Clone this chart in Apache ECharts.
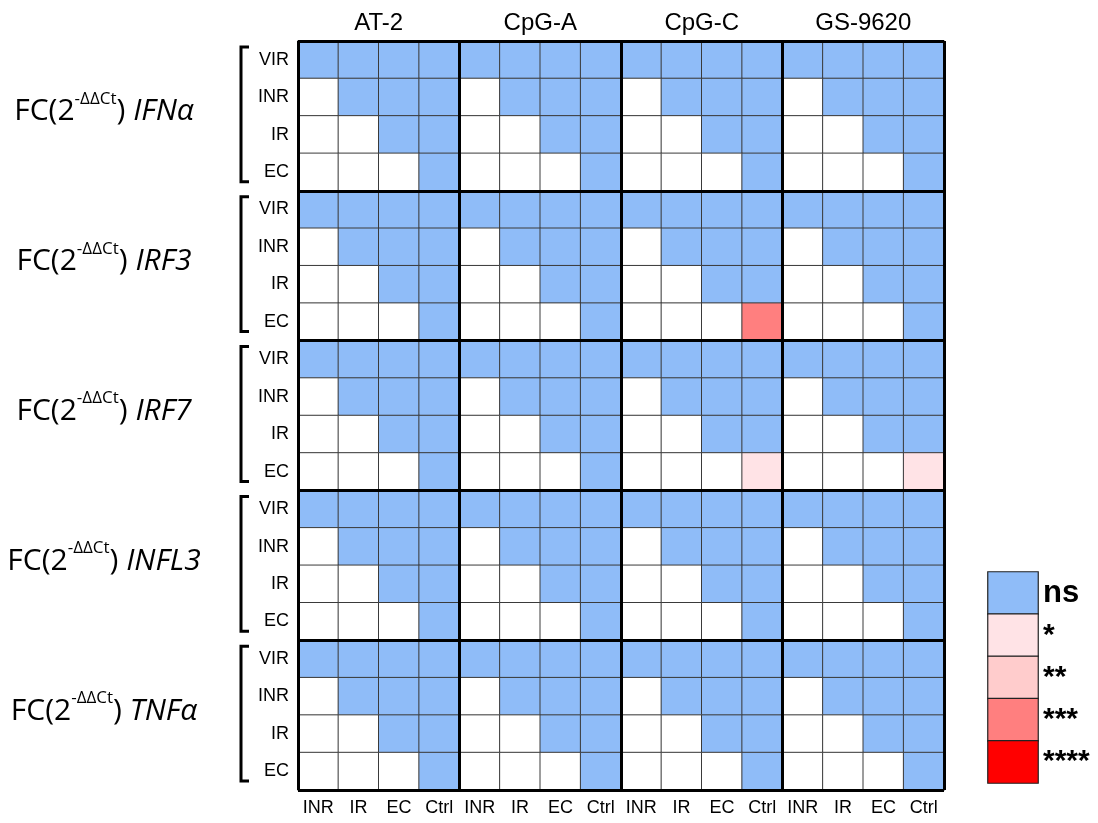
<!DOCTYPE html>
<html><head><meta charset="utf-8">
<script src="https://cdn.jsdelivr.net/npm/echarts@6/dist/echarts.min.js"></script>
<style>html,body{margin:0;padding:0;background:#fff}#c{width:1098px;height:823px}</style>
</head><body><div id="c"></div>
<script>
const groups = ['AT-2', 'CpG-A', 'CpG-C', 'GS-9620'];
const columnConds = ['INR', 'IR', 'EC', 'Ctrl'];
const rowConds = ['VIR', 'INR', 'IR', 'EC'];
const genes = ['IFNα', 'IRF3', 'IRF7', 'INFL3', 'TNFα'];
const sigLabels = ['ns', '*', '**', '***', '****'];
const sigColors = ['#8fbcf8', '#ffe3e6', '#ffcccc', '#ff7f7f', '#ff0000'];
// codes: 0 = not compared (blank), 1 = ns, 2 = *, 3 = **, 4 = ***, 5 = ****
const sig_IFNa = [
  [1,1,1,1, 1,1,1,1, 1,1,1,1, 1,1,1,1],
  [0,1,1,1, 0,1,1,1, 0,1,1,1, 0,1,1,1],
  [0,0,1,1, 0,0,1,1, 0,0,1,1, 0,0,1,1],
  [0,0,0,1, 0,0,0,1, 0,0,0,1, 0,0,0,1]
];
const sig_IRF3 = [
  [1,1,1,1, 1,1,1,1, 1,1,1,1, 1,1,1,1],
  [0,1,1,1, 0,1,1,1, 0,1,1,1, 0,1,1,1],
  [0,0,1,1, 0,0,1,1, 0,0,1,1, 0,0,1,1],
  [0,0,0,1, 0,0,0,1, 0,0,0,4, 0,0,0,1]
];
const sig_IRF7 = [
  [1,1,1,1, 1,1,1,1, 1,1,1,1, 1,1,1,1],
  [0,1,1,1, 0,1,1,1, 0,1,1,1, 0,1,1,1],
  [0,0,1,1, 0,0,1,1, 0,0,1,1, 0,0,1,1],
  [0,0,0,1, 0,0,0,1, 0,0,0,2, 0,0,0,2]
];
const sig_INFL3 = [
  [1,1,1,1, 1,1,1,1, 1,1,1,1, 1,1,1,1],
  [0,1,1,1, 0,1,1,1, 0,1,1,1, 0,1,1,1],
  [0,0,1,1, 0,0,1,1, 0,0,1,1, 0,0,1,1],
  [0,0,0,1, 0,0,0,1, 0,0,0,1, 0,0,0,1]
];
const sig_TNFa = [
  [1,1,1,1, 1,1,1,1, 1,1,1,1, 1,1,1,1],
  [0,1,1,1, 0,1,1,1, 0,1,1,1, 0,1,1,1],
  [0,0,1,1, 0,0,1,1, 0,0,1,1, 0,0,1,1],
  [0,0,0,1, 0,0,0,1, 0,0,0,1, 0,0,0,1]
];
const geneMatrices = [sig_IFNa, sig_IRF3, sig_IRF7, sig_INFL3, sig_TNFa];

// build categories
const xCats = [];
groups.forEach(g => columnConds.forEach(c => xCats.push(g + '|' + c)));
const yCats = [];
genes.forEach(g => rowConds.forEach(r => yCats.push(g + '|' + r)));

const cellData = [];
geneMatrices.forEach((m, gi) => {
  m.forEach((row, ri) => {
    row.forEach((v, ci) => {
      cellData.push([ci, gi * rowConds.length + ri, v]);
    });
  });
});
const legendData = sigLabels.map((s, i) => [0, i, i + 1]);

const pieces = [{ value: 0, color: '#ffffff' }].concat(sigColors.map((c, i) => ({ value: i + 1, color: c })));

const G = { left: 298, top: 41, width: 646, height: 749 };
const chart = echarts.init(document.getElementById('c'), null, { renderer: 'canvas' });

const option = {
  backgroundColor: '#ffffff',
  animation: false,
  grid: [
    Object.assign({}, G),
    Object.assign({ z: 10 }, G),
    Object.assign({}, G),
    { left: 988, top: 572, width: 50, height: 211 }
  ],
  visualMap: {
    type: 'piecewise', show: false, dimension: 2, seriesIndex: [0, 1],
    pieces: pieces
  },
  xAxis: [
    { gridIndex: 0, type: 'category', data: xCats, position: 'bottom',
      axisLine: { show: false }, axisTick: { show: false }, splitLine: { show: false },
      axisLabel: { formatter: v => v.split('|')[1], fontFamily: 'Liberation Sans', fontSize: 18, color: '#000', margin: 9, interval: 0 } },
    { gridIndex: 1, type: 'value', min: 0, max: 16, interval: 4, z: 10,
      axisLine: { show: false }, axisTick: { show: false }, axisLabel: { show: false },
      splitLine: { show: true, lineStyle: { color: '#000', width: 3 } } },
    { gridIndex: 2, type: 'category', data: groups, position: 'top',
      axisLine: { show: false }, axisTick: { show: false }, splitLine: { show: false },
      axisLabel: { fontFamily: 'Liberation Sans', fontSize: 24, color: '#000', margin: 6, interval: 0 } },
    { gridIndex: 3, type: 'category', data: ['legend'], show: false }
  ],
  yAxis: [
    { gridIndex: 0, type: 'category', data: yCats, inverse: true,
      axisLine: { show: false }, axisTick: { show: false }, splitLine: { show: false },
      axisLabel: { formatter: v => v.split('|')[1], fontFamily: 'Liberation Sans', fontSize: 18, color: '#000', margin: 9, interval: 0 } },
    { gridIndex: 1, type: 'value', min: 0, max: 20, interval: 4, z: 10,
      axisLine: { show: false }, axisTick: { show: false }, axisLabel: { show: false },
      splitLine: { show: true, lineStyle: { color: '#000', width: 3 } } },
    { gridIndex: 2, type: 'category', data: genes, inverse: true,
      axisLine: { show: false }, axisTick: { show: false }, splitLine: { show: false },
      axisLabel: {
        interval: 0, margin: 194, align: 'center',
        formatter: v => '{n|FC(2}{s|-ΔΔCt}{n|) }{i|' + v + '}',
        rich: {
          n: { fontFamily: 'Open Sans', fontSize: 30, color: '#000', padding: [0, 0, 8, 0] },
          s: { fontFamily: 'Open Sans', fontSize: 17, color: '#000', padding: [0, 0, 34, 0] },
          i: { fontFamily: 'Open Sans', fontSize: 30, fontStyle: 'italic', color: '#000', padding: [0, 0, 8, 0] }
        }
      } },
    { gridIndex: 3, type: 'category', data: sigLabels, inverse: true, position: 'right',
      axisLine: { show: false }, axisTick: { show: false }, splitLine: { show: false },
      axisLabel: {
        interval: 0, margin: 5, align: 'left',
        formatter: v => v === 'ns' ? '{b|' + v + '}' : '{a|' + v + '}',
        rich: {
          b: { fontFamily: 'Liberation Sans', fontWeight: 'bold', fontSize: 31, color: '#000' },
          a: { fontFamily: 'Liberation Sans', fontWeight: 'bold', fontSize: 30, color: '#000' }
        }
      } }
  ],
  series: [
    { type: 'heatmap', xAxisIndex: 0, yAxisIndex: 0, data: cellData,
      itemStyle: { borderColor: '#3a3a3a', borderWidth: 1 },
      emphasis: { disabled: true } },
    { type: 'heatmap', xAxisIndex: 3, yAxisIndex: 3, data: legendData,
      itemStyle: { borderColor: '#222', borderWidth: 1.2 },
      emphasis: { disabled: true } },
    { type: 'custom', xAxisIndex: 0, yAxisIndex: 0, silent: true, clip: false,
      data: genes.map((g, i) => [0, i * rowConds.length, i * rowConds.length + rowConds.length - 1]),
      renderItem: function (params, api) {
        const cs = params.coordSys;
        const bandH = api.size([0, 1])[1];
        const yTop = api.coord([0, api.value(1)])[1] - bandH / 2 + 6;
        const yBot = api.coord([0, api.value(2)])[1] + bandH / 2 - 9;
        const x = cs.x - 57;
        return {
          type: 'polyline',
          shape: { points: [[x + 8, yTop], [x, yTop], [x, yBot], [x + 8, yBot]] },
          style: { stroke: '#000', lineWidth: 3, fill: null }
        };
      } }
  ]
};
chart.setOption(option);
</script></body></html>
